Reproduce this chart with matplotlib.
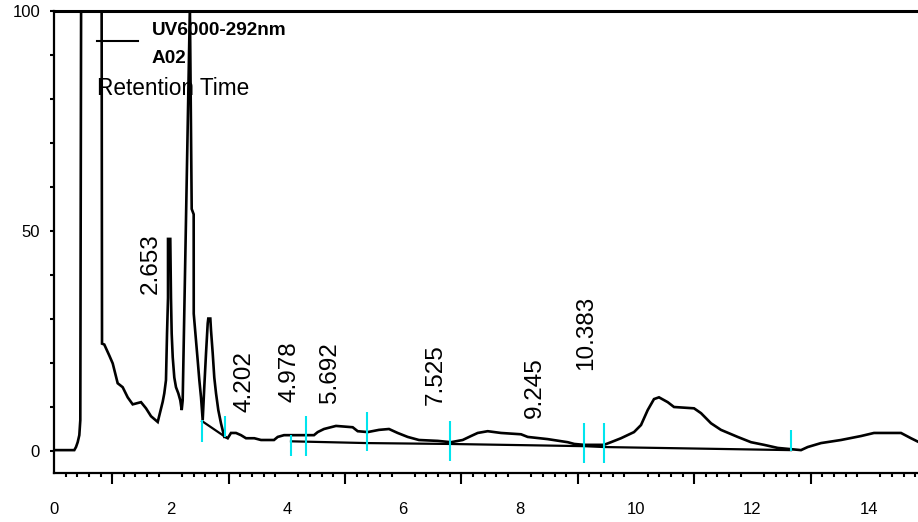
import matplotlib

matplotlib.use("Agg")
import matplotlib.pyplot as plt
import numpy as np

plt.rcParams["font.family"] = ["Liberation Sans", "DejaVu Sans"]

# chromatogram trace (time in min, signal in mAU)
trace_t = [0.0, 0.349, 0.378, 0.407, 0.435, 0.452, 0.48, 0.64, 0.81, 0.825,
           0.864, 0.950, 1.009, 1.094, 1.180, 1.266, 1.352, 1.495, 1.581, 1.667,
           1.782, 1.868, 1.895, 1.924, 1.942, 1.959, 1.959, 1.998, 2.010, 2.022,
           2.040, 2.067, 2.096, 2.136, 2.170, 2.194, 2.211, 2.335, 2.366, 2.400,
           2.401, 2.440, 2.469, 2.497, 2.526, 2.555, 2.582, 2.612, 2.641, 2.651,
           2.686, 2.698, 2.727, 2.754, 2.784, 2.823, 2.869, 2.926, 2.943, 2.985,
           3.041, 3.127, 3.213, 3.299, 3.442, 3.557,
           3.780, 3.844, 3.952, 4.296, 4.467, 4.531, 4.639, 4.845, 5.132, 5.218,
           5.390, 5.584, 5.756, 5.905, 6.077, 6.271, 6.593, 6.821, 7.022, 7.165,
           7.280, 7.452, 7.680, 8.024, 8.139, 8.483, 8.826, 8.940, 9.107, 9.450,
           9.570, 9.742, 9.966, 10.086, 10.201, 10.309, 10.395, 10.545, 10.653, 10.997,
           11.117, 11.289, 11.460, 11.747, 11.976, 12.199, 12.435, 12.835, 12.950, 13.179,
           13.522, 13.866, 14.089, 14.553, 14.725, 14.863]
trace_y = [0.2, 0.2, 0.9, 2.0, 3.6, 7.0, 200, 300, 200, 24.4,
           24.2, 21.7, 19.9, 15.4, 14.5, 12.2, 10.6, 11.1, 9.7, 7.9,
           6.6, 11.2, 13.1, 16.1, 26.7, 34.8, 48.2, 48.2, 34.8, 26.7,
           21.3, 16.7, 14.5, 13.1, 11.5, 9.3, 11.5, 101, 55.0, 53.8,
           31.2, 25.1, 20.6, 16.1, 12.2, 7.0, 14.5, 22.2, 29.0, 30.1,
           30.1, 27.4, 22.2, 16.7, 13.1, 9.3, 6.3, 3.2, 3.2, 2.9,
           4.1, 4.1, 3.6, 2.9, 2.9, 2.5,
           2.5, 3.2, 3.6, 3.6, 3.6, 4.3, 5.0, 5.7, 5.4, 4.5,
           4.3, 4.8, 5.0, 4.1, 3.2, 2.5, 2.3, 2.0, 2.5, 3.4,
           4.1, 4.5, 4.1, 3.8, 3.2, 2.7, 2.0, 1.6, 1.4, 1.4,
           2.0, 2.9, 4.3, 5.9, 9.3, 11.8, 12.2, 11.1, 10.0, 9.7,
           8.6, 6.3, 4.8, 3.2, 2.0, 1.4, 0.7, 0.2, 0.9, 1.8,
           2.5, 3.4, 4.1, 4.1, 2.9, 2.0]

# integration baselines
base1_t = [2.543, 2.943]
base1_y = [6.8, 3.2]
base2_t = [4.072, 5.378, 6.804, 9.101, 9.455, 12.663]
base2_y = [2.2, 1.8, 1.6, 1.1, 0.9, 0.2]

# peak start/end markers: time, low, high
mark_t = [2.543, 2.943, 4.072, 4.330, 5.378, 6.804, 9.101, 9.455, 12.663]
mark_lo = [2.0, 3.2, -1.1, -1.1, 0.0, -2.3, -2.7, -2.7, 0.0]
mark_hi = [7.0, 7.9, 3.6, 7.9, 8.8, 6.8, 6.3, 6.3, 4.8]

# retention time labels
label_txt = ["2.653", "4.202", "4.978", "5.692", "7.525", "9.245", "10.383"]
label_t = [1.667, 3.265, 4.038, 4.734, 6.564, 8.265, 9.149]
label_y = [35.7, 8.8, 11.1, 10.9, 10.4, 7.5, 18.3]

fig = plt.figure(figsize=(9.18, 5.22), dpi=100)
ax = fig.add_axes([54 / 918, 49 / 522, 864 / 918, 462 / 522])

ax.plot(trace_t, trace_y, color="black", lw=1.9, solid_joinstyle="miter")
ax.plot(base1_t, base1_y, color="black", lw=1.6)
ax.plot(base2_t, base2_y, color="black", lw=1.6)
ax.vlines(mark_t, mark_lo, mark_hi, color="#00e5ee", lw=1.5, zorder=3)

for txt, t, y in zip(label_txt, label_t, label_y):
    ax.text(t, y, txt, rotation=90, ha="center", va="bottom", fontsize=17.5)

ax.set_xlim(0, 864 / 58.2)
ax.set_ylim(-5, 100)

for s in ("left", "bottom"):
    ax.spines[s].set_linewidth(1.6)
ax.spines["top"].set_linewidth(2.2)
ax.spines["right"].set_visible(False)

# x axis: labels on even minutes, short ticks every 0.2, long ticks on odd minutes
ax.set_xticks(np.arange(0, 15, 2))
ax.set_xticklabels([str(v) for v in range(0, 15, 2)])
minor = [round(v, 1) for v in np.arange(0.2, 14.9, 0.2) if abs(v / 2 - round(v / 2)) > 1e-6]
ax.set_xticks(minor, minor=True)
ax.tick_params(axis="x", which="major", length=0, pad=21, labelsize=12)
ax.tick_params(axis="x", which="minor", length=3, width=1.5, direction="out")
sec = ax.secondary_xaxis("bottom")
sec.set_xticks(np.arange(1, 15, 2))
sec.set_xticklabels([])
sec.tick_params(length=8, width=1.5)
sec.spines["bottom"].set_visible(False)

ax.set_yticks([0, 50, 100])
ax.set_yticks(np.arange(10, 100, 10), minor=True)
ax.tick_params(axis="y", which="both", length=3, width=1.5, labelsize=12, pad=7)

# legend block
ax.plot([0.0498, 0.0972], [0.935, 0.935], color="black", lw=1.5, transform=ax.transAxes)
ax.text(0.1134, 0.957, "UV6000-292nm", transform=ax.transAxes, fontsize=13.7,
        fontweight="bold", va="center", ha="left")
ax.text(0.1134, 0.898, "A02", transform=ax.transAxes, fontsize=13.7,
        fontweight="bold", va="center", ha="left")
ax.text(0.0498, 0.833, "Retention Time", transform=ax.transAxes, fontsize=16.3,
        va="center", ha="left")

fig.savefig("out.png", dpi=100)
